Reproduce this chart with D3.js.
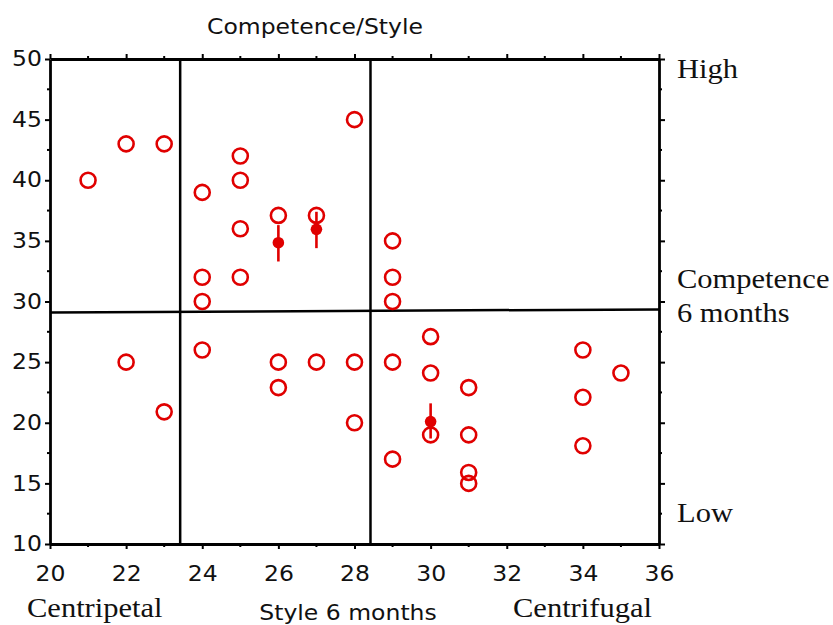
<!DOCTYPE html>
<html><head><meta charset="utf-8">
<script src="https://cdn.jsdelivr.net/npm/d3@7"></script>
<style>body{margin:0;background:#fff}</style>
</head><body>
<svg id="c" width="833" height="625"></svg>
<script>
// Data: Style 6 months (x) vs Competence 6 months (y)
const styleOpen = [21,22,23,24,24,24,25,25,25,25,26,27,28,29,29,29,
                   22,23,24,26,26,27,28,28,29,29,30,30,30,31,31,31,31,34,34,34,35];
const compOpen  = [40,43,43,39,32,30,42,40,36,32,37.1,37.1,45,35,32,30,
                   25,20.9,26,25,22.9,25,25,20,25,17,27.1,24.1,19,22.9,19,15.9,15,26,22.1,18.1,24.1];
const styleMean = [26,27,30];
const compMean  = [34.85,35.95,20.1];
const errLow    = [33.3,34.4,18.7];
const errHigh   = [36.3,37.4,21.6];
const styleCut  = [23.42,28.42];
const compCutLine = [[20,29.1],[36,29.35]];
const xTicks = [20,22,24,26,28,30,32,34,36];
const yTicks = [10,15,20,25,30,35,40,45,50];

const red = "#e00000";
const svg = d3.select("#c");
const x = d3.scaleLinear().domain([20,36]).range([50,659]);
const y = d3.scaleLinear().domain([10,50]).range([544,59]);
const sx = 1.12;
const sans = "DejaVu Sans, sans-serif";
const serif = "Liberation Serif, Times New Roman, serif";

// quadrant lines
styleCut.forEach(v=>{
  svg.append("line").attr("x1",x(v)).attr("x2",x(v)).attr("y1",y(50)).attr("y2",y(10))
    .attr("stroke","#000").attr("stroke-width",2.5);
});
svg.append("line").attr("x1",x(compCutLine[0][0])).attr("y1",y(compCutLine[0][1]))
  .attr("x2",x(compCutLine[1][0])).attr("y2",y(compCutLine[1][1]))
  .attr("stroke","#000").attr("stroke-width",2.5);

// axes
function styleAxis(g){ g.select(".domain").attr("stroke-width",2.8); g.selectAll(".tick line").attr("stroke-width",2); }
const minorX = d3.range(21,36,2);
const minorY = d3.range(12.5,50,5);

const gl = svg.append("g").attr("transform",`translate(${x(20)},0)`)
  .call(d3.axisLeft(y).tickValues(yTicks).tickSize(5).tickSizeOuter(0).tickPadding(8)).call(styleAxis);
gl.selectAll(".tick text").attr("font-family",sans).attr("font-size",21).attr("fill","#111")
  .attr("transform",`scale(${sx},1)`).attr("x",-8/sx);
gl.append("g").selectAll("line").data(minorY).join("line")
  .attr("x1",-3).attr("x2",0).attr("y1",d=>y(d)).attr("y2",d=>y(d)).attr("stroke","#000").attr("stroke-width",2);

const gb = svg.append("g").attr("transform",`translate(0,${y(10)})`)
  .call(d3.axisBottom(x).tickValues(xTicks).tickSize(5).tickSizeOuter(0).tickPadding(17)).call(styleAxis);
gb.selectAll(".tick text").attr("font-family",sans).attr("font-size",21).attr("fill","#111")
  .attr("transform",`scale(${sx},1)`);
gb.append("g").selectAll("line").data(minorX).join("line")
  .attr("y1",0).attr("y2",3).attr("x1",d=>x(d)).attr("x2",d=>x(d)).attr("stroke","#000").attr("stroke-width",2);

const gt = svg.append("g").attr("transform",`translate(0,${y(50)})`)
  .call(d3.axisTop(x).tickValues(xTicks).tickSize(5).tickSizeOuter(0).tickFormat("")).call(styleAxis);
gt.append("g").selectAll("line").data(minorX).join("line")
  .attr("y1",0).attr("y2",-3).attr("x1",d=>x(d)).attr("x2",d=>x(d)).attr("stroke","#000").attr("stroke-width",2);

const gr = svg.append("g").attr("transform",`translate(${x(36)},0)`)
  .call(d3.axisRight(y).tickValues(yTicks).tickSize(6).tickSizeOuter(0).tickFormat("")).call(styleAxis);
gr.append("g").selectAll("line").data(minorY).join("line")
  .attr("x1",0).attr("x2",3).attr("y1",d=>y(d)).attr("y2",d=>y(d)).attr("stroke","#000").attr("stroke-width",2);

// error bars
const means = styleMean.map((s,i)=>({s,c:compMean[i],lo:errLow[i],hi:errHigh[i]}));
svg.append("g").selectAll("line").data(means).join("line")
  .attr("x1",d=>x(d.s)).attr("x2",d=>x(d.s)).attr("y1",d=>y(d.lo)).attr("y2",d=>y(d.hi))
  .attr("stroke",red).attr("stroke-width",2.6);

// open circles
const pts = styleOpen.map((s,i)=>({s,c:compOpen[i]}));
svg.append("g").selectAll("circle").data(pts).join("circle")
  .attr("cx",d=>x(d.s)).attr("cy",d=>y(d.c)).attr("r",7.5)
  .attr("fill","none").attr("stroke",red).attr("stroke-width",2.6);

// filled mean dots
svg.append("g").selectAll("circle").data(means).join("circle")
  .attr("cx",d=>x(d.s)).attr("cy",d=>y(d.c)).attr("r",5.8).attr("fill",red);

// texts
function txt(str,px,py,font,size,anchor,scale){
  svg.append("text").text(str).attr("transform",`translate(${px},${py}) scale(${scale},1)`)
    .attr("font-family",font).attr("font-size",size).attr("text-anchor",anchor).attr("fill","#111");
}
txt("Competence/Style",315,34,sans,21,"middle",sx);
txt("Style 6 months",348,620,sans,21,"middle",sx);
txt("Centripetal",27,617,serif,28,"start",1.09);
txt("Centrifugal",513,617,serif,28,"start",1.09);
txt("High",677,78,serif,28,"start",1.09);
txt("Competence",677,288,serif,28,"start",1.09);
txt("6 months",677,322,serif,28,"start",1.09);
txt("Low",677,522,serif,28,"start",1.09);
</script>
</body></html>
